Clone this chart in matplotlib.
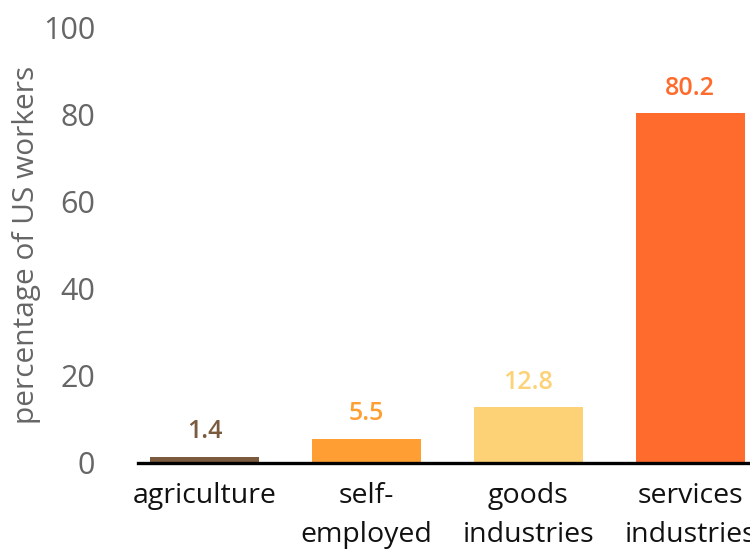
import matplotlib.pyplot as plt

categories = ["agriculture", "self-\nemployed", "goods\nindustries", "services\nindustries"]
values = [1.4, 5.5, 12.8, 80.2]
colors = ["#7b5a3e", "#ff9f33", "#fdd276", "#ff6b2c"]
yticks = [0, 20, 40, 60, 80, 100]

plt.rcParams["font.family"] = ["Open Sans", "DejaVu Sans"]

fig = plt.figure(figsize=(7.5, 5.53), dpi=100)
ax = fig.add_axes([0.184, 0.163, 0.825, 0.788])

x = range(len(categories))
ax.bar(x, values, width=0.67, color=colors, zorder=2)

for xi, v, c in zip(x, values, colors):
    ax.annotate(f"{v}", (xi, v), xytext=(0, 9), textcoords="offset points",
                ha="center", va="bottom", fontsize=18, fontweight="semibold", color=c)

ax.set_xlim(-0.41, 3.41)
ax.set_ylim(0, 100)
ax.set_yticks(yticks)
ax.set_xticks(list(x))
ax.set_xticklabels(categories, fontsize=20.5, color="#111111", linespacing=1.5)
ax.tick_params(axis="x", length=0, pad=14)
ax.tick_params(axis="y", length=0, pad=31, labelsize=22, labelcolor="#666666")
ax.set_ylabel("percentage of US workers", fontsize=21.5, color="#666666", labelpad=1)

for side in ["top", "right", "left"]:
    ax.spines[side].set_visible(False)
ax.spines["bottom"].set_linewidth(2.4)
ax.spines["bottom"].set_color("black")
ax.spines["bottom"].set_zorder(3)

fig.savefig("out.png", dpi=100)
